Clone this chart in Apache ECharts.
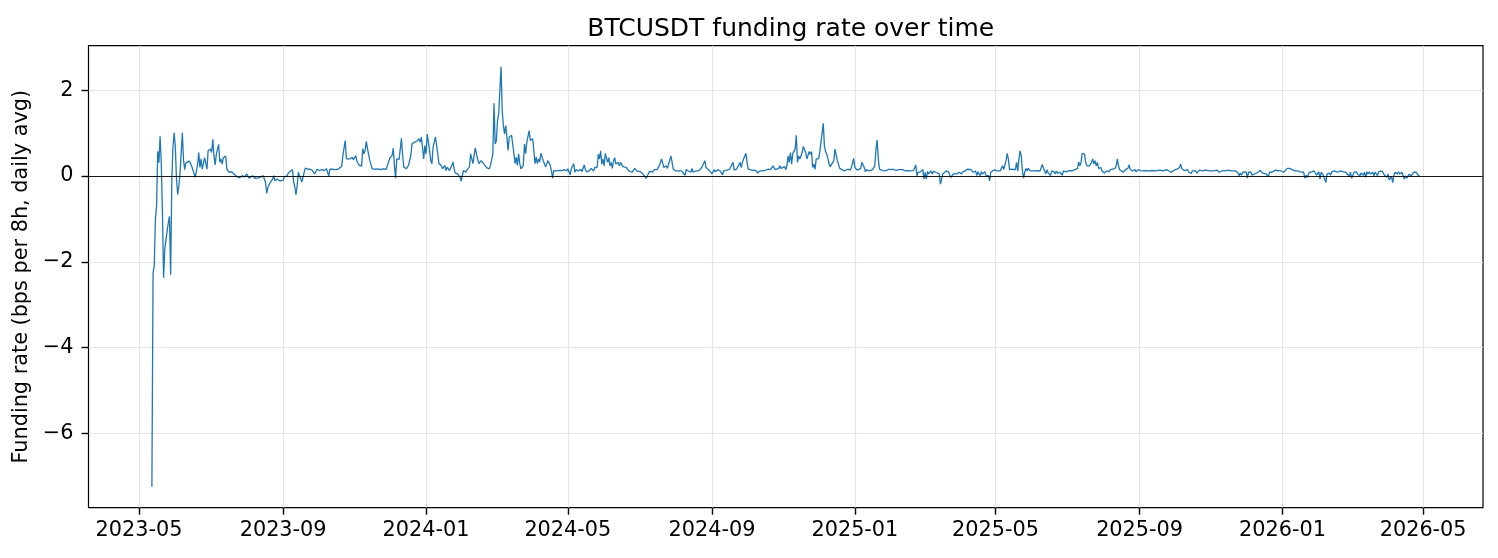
<!DOCTYPE html>
<html>
<head>
<meta charset="utf-8">
<title>BTCUSDT funding rate over time</title>
<script src="https://cdn.jsdelivr.net/npm/echarts@6/dist/echarts.min.js"></script>
<style>
  html, body { margin: 0; padding: 0; background: #fff; }
  #chart { width: 1498px; height: 558px; }
</style>
</head>
<body>
<div id="chart"></div>
<script>
// day offsets are counted from this date
const seriesStart = [2023, 5, 1];

const xTickLabels = ["2023-05", "2023-09", "2024-01", "2024-05", "2024-09", "2025-01",
  "2025-05", "2025-09", "2026-01", "2026-05"];
const yTicks = [-6, -4, -2, 0, 2];

// [day offset, funding rate in bps per 8h]
const rates2023 = [
  [11,-7.24],[12,-2.26],[13,-2.10],[14,-1.01],[15,-0.70],[16,0.58],[17,0.31],[18,0.93],[19,0.31],[20,-0.86],
  [21,-2.37],[22,-1.71],[23,-1.48],[25,-1.09],[26,-0.94],[27,-2.30],[28,-0.08],[29,0.69],[30,1.01],[31,0.69],
  [32,-0.08],[33,-0.43],[34,-0.24],[35,0.07],[37,1.01],[38,0.38],[39,0.15],[40,0.31],[41,0.27],[43,0.35],
  [45,0.23],[46,0.19],[48,-0.03],[50,0.27],[51,0.55],[52,0.20],[53,0.40],[54,0.16],[56,0.43],[57,0.40],
  [58,0.16],[59,0.59],[61,0.63],[62,0.55],[63,0.86],[64,0.47],[65,0.26],[66,0.51],[68,0.74],[69,0.32],
  [70,0.40],[71,0.28],[72,0.43],[74,0.47],[75,0.16],[76,0.15],[77,0.09],[79,0.10],[81,0.05],[83,0.00],
  [84,0.01],[86,-0.04],[88,0.01],[90,-0.02],[91,0.01],[92,0.05],[94,-0.05],[95,-0.04],[97,0.01],[99,-0.05],
  [100,-0.07],[102,-0.04],[104,-0.02],[106,0.01],[107,0.05],[108,-0.15],[109,-0.40],[110,-0.26],[112,-0.15],[114,-0.07],
  [115,0.01],[116,-0.11],[118,-0.07],[120,-0.11],[123,-0.10],[124,-0.02],[126,0.00],[128,0.09],[129,0.13],[131,0.15],
  [132,-0.14],[133,-0.26],[134,-0.43],[135,-0.22],[136,0.09],[137,0.05],[139,-0.14],[140,-0.18],[141,0.09],[142,0.19],
  [144,0.16],[146,0.16],[148,0.13],[150,0.05],[152,0.16],[154,0.13],[156,0.15],[158,0.13],[160,0.17],[162,0.00],
  [163,0.16],[165,0.16],[167,0.15],[170,0.16],[171,0.19],[173,0.23],[174,0.48],[176,0.83],[177,0.40],[178,0.36],
  [180,0.40],[182,0.44],[183,0.38],[185,0.48],[186,0.34],[188,0.25],[190,0.23],[191,0.64],[192,0.52],[193,0.60],
  [194,0.81],[195,0.64],[197,0.36],[198,0.36],[199,0.17],[202,0.16],[204,0.17],[206,0.15],[208,0.17],[211,0.16],
  [212,0.19],[214,0.42],[216,0.48],[217,0.65],[218,0.25],[219,-0.05],[220,0.40],[222,0.39],[224,0.88],[225,0.48],
  [226,0.21],[228,0.17],[229,0.17],[230,0.25],[232,0.48],[233,0.75],[235,0.79],[237,0.81],[239,0.87],[240,0.79],
  [241,0.91],[243,0.40],[244,0.71]
];
const rates2024 = [
  [245,0.52],[246,0.98],[248,0.60],[249,0.36],[250,0.29],[251,0.67],[253,0.91],[254,0.92],[255,0.52],[256,0.29],
  [258,0.25],[259,0.17],[261,0.25],[262,0.13],[263,0.21],[265,0.13],[267,0.25],[268,0.33],[269,0.17],[270,0.07],
  [272,0.05],[274,-0.02],[275,-0.12],[276,0.02],[277,0.13],[279,0.09],[280,0.15],[282,0.21],[283,0.52],[284,0.48],
  [285,0.29],[287,0.66],[288,0.52],[289,0.48],[290,0.29],[292,0.36],[294,0.29],[295,0.25],[297,0.19],[299,0.17],
  [300,0.25],[302,0.52],[303,1.70],[304,0.75],[305,0.83],[306,1.29],[307,1.45],[308,1.99],[309,2.55],[310,1.53],
  [311,1.18],[312,0.98],[313,1.18],[314,0.91],[315,0.60],[316,0.91],[317,0.95],[318,0.95],[320,0.52],[321,0.29],
  [322,0.44],[323,0.25],[324,0.52],[325,0.29],[326,0.17],[328,0.25],[329,0.75],[330,0.52],[331,0.79],[332,0.83],
  [333,1.06],[334,0.83],[336,0.87],[337,0.60],[338,0.29],[339,0.44],[340,0.29],[341,0.40],[342,0.33],[343,0.53],
  [345,0.36],[346,0.29],[347,0.21],[349,0.36],[351,0.25],[352,0.13],[353,-0.05],[354,0.13],[356,0.12],[358,0.13],
  [359,0.15],[361,0.13],[363,0.15],[365,0.12],[366,0.17],[367,0.13],[368,0.03],[369,0.17],[371,0.29],[372,0.09],
  [373,0.15],[375,0.12],[377,0.16],[378,0.10],[380,0.26],[381,0.15],[382,0.10],[384,0.12],[386,0.18],[388,0.12],
  [389,0.20],[391,0.20],[392,0.51],[393,0.40],[394,0.59],[395,0.28],[396,0.40],[397,0.24],[398,0.53],[400,0.32],
  [401,0.43],[402,0.24],[403,0.32],[404,0.18],[405,0.36],[406,0.43],[407,0.28],[409,0.32],[410,0.24],[411,0.32],
  [413,0.22],[414,0.26],[416,0.20],[418,0.12],[419,0.16],[421,0.09],[423,0.18],[425,0.12],[426,0.09],[428,0.10],
  [430,0.05],[431,0.01],[433,-0.05],[435,0.07],[436,0.12],[438,0.09],[440,0.15],[442,0.15],[443,0.18],[444,0.24],
  [446,0.40],[447,0.43],[448,0.20],[449,0.16],[450,0.24],[451,0.18],[452,0.28],[454,0.47],[455,0.32],[456,0.16],
  [458,0.12],[459,0.16],[461,0.12],[463,0.12],[464,0.09],[466,0.02],[467,0.15],[469,0.12],[471,0.09],[472,0.18],
  [473,0.09],[475,0.12],[477,0.12],[479,0.15],[480,0.18],[481,0.24],[483,0.36],[484,0.20],[485,0.16],[487,0.12],
  [488,0.12],[489,0.05],[491,0.15],[492,0.10],[494,0.15],[496,0.12],[498,0.03],[499,0.12],[500,0.12],[502,0.14],
  [504,0.16],[505,0.14],[507,0.32],[508,0.14],[510,0.16],[511,0.20],[513,0.32],[514,0.20],[515,0.32],[516,0.40],
  [518,0.53],[519,0.32],[520,0.16],[521,0.14],[523,0.14],[525,0.14],[527,0.12],[528,0.07],[530,0.12],[532,0.12],
  [533,0.14],[535,0.14],[537,0.16],[539,0.15],[540,0.16],[541,0.24],[543,0.15],[544,0.15],[546,0.18],[547,0.24],
  [548,0.18],[549,0.16],[551,0.22],[552,0.15],[553,0.24],[554,0.47],[555,0.32],[556,0.55],[557,0.28],[558,0.53],
  [560,0.63],[561,0.95],[562,0.32],[563,0.47],[564,0.40],[565,0.36],[566,0.55],[567,0.69],[569,0.55],[570,0.40],
  [571,0.36],[572,0.57],[573,0.51],[574,0.57],[575,0.20],[576,0.28],[577,0.16],[578,0.40],[579,0.36],[580,0.40],
  [581,0.55],[582,0.78],[584,1.23],[585,0.71],[586,0.57],[587,0.51],[588,0.40],[589,0.28],[590,0.22],[591,0.24],
  [593,0.36],[594,0.63],[595,0.59],[596,0.36],[597,0.28],[598,0.18],[600,0.15],[602,0.12],[603,0.12],[605,0.16],
  [607,0.14],[608,0.20],[609,0.16],[610,0.41]
];
const rates2025 = [
  [611,0.20],[613,0.14],[614,0.14],[616,0.18],[617,0.32],[619,0.20],[620,0.10],[621,0.15],[623,0.12],[624,0.10],
  [626,0.15],[627,0.12],[628,0.24],[629,0.63],[630,0.84],[631,0.40],[632,0.16],[633,0.12],[635,0.13],[637,0.12],
  [638,0.10],[640,0.16],[641,0.20],[642,0.15],[644,0.16],[646,0.13],[648,0.15],[649,0.12],[652,0.15],[654,0.12],
  [656,0.13],[658,0.12],[661,0.13],[662,0.16],[663,0.26],[664,0.01],[665,0.09],[666,0.12],[667,0.10],[669,0.15],
  [670,-0.07],[671,0.09],[672,-0.07],[673,0.11],[674,0.05],[676,0.12],[677,0.05],[678,0.11],[680,0.09],[681,0.12],
  [683,0.05],[684,-0.19],[685,-0.15],[686,0.05],[687,0.01],[689,0.12],[690,0.09],[691,0.10],[692,0.02],[693,-0.03],
  [695,0.05],[696,0.09],[698,0.05],[700,0.09],[702,0.05],[703,0.10],[705,0.12],[707,0.16],[708,0.12],[710,0.15],
  [712,0.09],[714,0.12],[715,0.01],[716,0.10],[718,0.01],[719,0.10],[720,0.05],[722,0.10],[723,0.01],[725,0.01],
  [726,-0.11],[727,0.09],[728,0.12],[730,0.15],[732,0.12],[733,0.15],[735,0.12],[737,0.24],[738,0.15],[739,0.18],
  [740,0.36],[741,0.53],[742,0.40],[743,0.15],[745,0.16],[746,0.12],[748,0.15],[749,0.32],[750,0.12],[751,0.40],
  [752,0.59],[753,0.47],[754,0.12],[755,-0.05],[756,0.09],[757,0.18],[758,0.12],[759,0.18],[761,0.12],[762,0.15],
  [764,0.12],[766,0.13],[767,0.10],[769,0.12],[771,0.27],[772,0.18],[773,0.12],[774,0.05],[775,0.15],[776,0.07],
  [778,0.01],[779,0.12],[780,0.09],[781,0.10],[782,0.05],[783,0.12],[784,0.07],[786,0.09],[788,0.02],[789,0.12],
  [791,0.10],[792,0.12],[794,0.13],[796,0.12],[797,0.15],[799,0.15],[801,0.18],[802,0.33],[803,0.24],[804,0.32],
  [805,0.53],[806,0.53],[807,0.51],[808,0.32],[809,0.24],[810,0.20],[811,0.24],[813,0.32],[814,0.40],[815,0.28],
  [816,0.36],[817,0.24],[818,0.32],[819,0.18],[821,0.20],[822,0.12],[823,0.10],[824,0.07],[826,0.12],[828,0.10],
  [829,0.15],[831,0.16],[833,0.18],[834,0.24],[835,0.40],[836,0.24],[837,0.15],[838,0.16],[840,0.09],[842,0.15],
  [844,0.18],[845,0.26],[846,0.16],[848,0.12],[850,0.15],[851,0.10],[853,0.15],[855,0.13],[857,0.12],[859,0.13],
  [862,0.12],[864,0.13],[865,0.13],[868,0.12],[871,0.14],[874,0.12],[877,0.15],[879,0.12],[881,0.09],[882,0.13],
  [884,0.15],[886,0.16],[888,0.20],[889,0.28],[890,0.18],[892,0.13],[893,0.12],[895,0.15],[896,0.09],[897,0.12],
  [898,0.06],[899,0.12],[900,0.10],[902,0.12],[903,0.07],[905,0.14],[906,0.15],[908,0.12],[910,0.14],[911,0.12],
  [913,0.13],[915,0.12],[917,0.12],[918,0.12],[920,0.14],[922,0.09],[923,0.12],[925,0.13],[927,0.12],[930,0.14],
  [932,0.12],[934,0.12],[936,0.12],[938,0.07],[939,0.01],[940,0.07],[941,0.02],[942,0.09],[943,0.05],[945,0.10],
  [946,-0.05],[947,0.09],[948,0.05],[949,0.09],[950,0.02],[951,-0.01],[953,0.06],[954,0.10],[955,0.09],[957,0.13],
  [958,0.10],[959,0.07],[960,0.10],[962,0.05],[963,0.09],[964,-0.01],[965,0.10],[967,0.09],[968,0.12],[970,0.14],
  [972,0.12],[974,0.13],[975,0.12]
];
const rates2026 = [
  [977,0.09],[978,0.12],[980,0.18],[981,0.15],[982,0.18],[984,0.15],[987,0.12],[989,0.12],[991,0.10],[992,0.12],
  [994,0.09],[995,-0.05],[996,0.02],[997,-0.03],[999,0.09],[1000,0.05],[1001,0.10],[1002,0.06],[1003,0.12],[1004,0.09],
  [1005,0.02],[1007,0.10],[1008,-0.07],[1009,0.09],[1010,0.12],[1011,0.01],[1012,0.05],[1013,-0.15],[1014,0.05],[1016,0.07],
  [1017,0.02],[1018,0.10],[1020,0.12],[1021,0.10],[1023,0.09],[1025,0.12],[1026,0.09],[1028,0.10],[1030,0.09],[1031,0.10],
  [1033,-0.01],[1034,0.09],[1035,-0.05],[1037,0.09],[1038,0.05],[1039,0.10],[1040,0.05],[1041,0.09],[1042,0.01],[1043,0.07],
  [1045,0.02],[1046,0.09],[1047,-0.03],[1048,0.10],[1049,0.05],[1050,0.10],[1051,0.05],[1053,0.09],[1054,0.01],[1055,0.09],
  [1056,0.12],[1057,0.01],[1058,0.10],[1059,0.09],[1061,0.12],[1062,0.09],[1063,0.02],[1064,0.05],[1065,-0.03],[1066,0.05],
  [1067,-0.09],[1069,-0.01],[1070,-0.15],[1071,0.01],[1072,0.09],[1073,0.12],[1074,0.05],[1075,0.10],[1076,0.05],[1078,0.09],
  [1079,-0.01],[1080,-0.07],[1081,0.01],[1082,-0.05],[1083,-0.01],[1084,0.04],[1086,0.01],[1088,0.09],[1089,0.12],[1090,0.09],
  [1091,0.07],[1092,0.01],[1093,0.02]
];

const DAY = 86400000;
const t0 = Date.UTC(seriesStart[0], seriesStart[1] - 1, seriesStart[2]);
const allRates = rates2023.concat(rates2024, rates2025, rates2026);
const lineData = allRates.map(([d, v]) => [t0 + d * DAY, v]);

const tickTimes = xTickLabels.map(s => {
  const [y, m] = s.split("-").map(Number);
  return Date.UTC(y, m - 1, 1);
});

// matplotlib style 5% margins
const xs = lineData.map(p => p[0]);
const ys = lineData.map(p => p[1]);
const xMin = Math.min(...xs), xMax = Math.max(...xs);
const yMin = Math.min(...ys), yMax = Math.max(...ys);
const xPad = (xMax - xMin) * 0.05, yPad = (yMax - yMin) * 0.05;

const FONT = "DejaVu Sans";
const tickFont = { fontFamily: FONT, fontSize: 20.8, color: "#000" };

const chart = echarts.init(document.getElementById("chart"), null, { renderer: "canvas" });

chart.setOption({
  animation: false,
  backgroundColor: "#fff",
  title: {
    text: "BTCUSDT funding rate over time",
    left: 785.75,
    top: 12,
    textAlign: "center",
    textStyle: { fontFamily: FONT, fontSize: 25, fontWeight: "normal", color: "#000" },
  },
  grid: {
    left: 88.5,
    right: 15,
    top: 45.7,
    bottom: 50.3,
    show: true,
    borderColor: "#000",
    borderWidth: 1.2,
    outerBoundsMode: "none",
  },
  xAxis: {
    type: "value",
    min: xMin - xPad,
    max: xMax + xPad,
    axisLine: { show: false, onZero: false },
    axisTick: {
      show: true, length: 7, inside: false,
      lineStyle: { color: "#000", width: 1.4 },
      customValues: tickTimes,
    },
    axisLabel: {
      ...tickFont,
      margin: 12,
      customValues: tickTimes,
      formatter: (v) => xTickLabels[tickTimes.indexOf(v)] || "",
    },
    splitLine: { show: true, lineStyle: { color: "#e6e6e6", width: 1.2 } },
  },
  yAxis: {
    type: "value",
    min: yMin - yPad,
    max: yMax + yPad,
    name: "Funding rate (bps per 8h, daily avg)",
    nameLocation: "middle",
    nameGap: 52,
    nameTextStyle: { fontFamily: FONT, fontSize: 20.8, color: "#000" },
    axisLine: { show: false },
    axisTick: {
      show: true, length: 7, inside: false,
      lineStyle: { color: "#000", width: 1.4 },
      customValues: yTicks,
    },
    axisLabel: {
      ...tickFont,
      margin: 15,
      customValues: yTicks,
      formatter: (v) => String(v).replace("-", "\u2212"),
    },
    splitLine: { show: true, lineStyle: { color: "#e6e6e6", width: 1.2 } },
  },
  series: [
    {
      name: "Funding rate",
      type: "line",
      data: lineData,
      showSymbol: false,
      symbol: "none",
      lineStyle: { color: "#1f77b4", width: 1.3 },
      z: 3,
      markLine: {
        silent: true,
        symbol: "none",
        label: { show: false },
        lineStyle: { color: "#000", width: 0.9, type: "solid" },
        data: [{ yAxis: 0 }],
      },
    },
  ],
});
</script>
</body>
</html>
